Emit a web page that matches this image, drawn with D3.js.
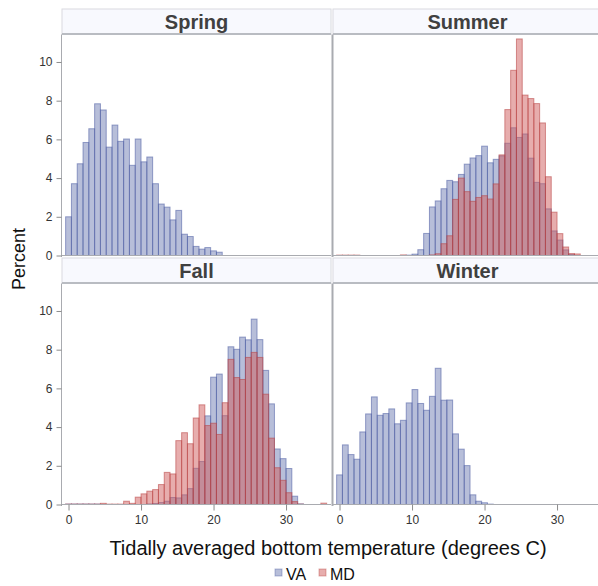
<!DOCTYPE html>
<html>
<head>
<meta charset="utf-8">
<script src="https://cdn.jsdelivr.net/npm/d3@7"></script>
<style>
  html, body { margin: 0; padding: 0; background: #ffffff; }
  svg { display: block; font-family: "Liberation Sans", Arial, sans-serif; }
</style>
</head>
<body>
<svg id="chart" width="598" height="586"></svg>
<script>
// Histogram bin midpoints (degrees C), bin width 0.8
const binMids = [0, 0.8, 1.6, 2.4, 3.2, 4, 4.8, 5.6, 6.4, 7.2, 8, 8.8, 9.6, 10.4, 11.2,
  12, 12.8, 13.6, 14.4, 15.2, 16, 16.8, 17.6, 18.4, 19.2, 20, 20.8, 21.6, 22.4, 23.2,
  24, 24.8, 25.6, 26.4, 27.2, 28, 28.8, 29.6, 30.4, 31.2, 32, 32.8, 33.6, 34.4, 35.2];
const binWidth = 0.8;

const seasons = ["Spring", "Summer", "Fall", "Winter"];
const states = ["VA", "MD"];

// Percent of observations per bin
const springVA = [2.0, 3.71, 4.74, 5.84, 6.55, 7.84, 7.52, 5.6, 6.74, 5.9, 6.02, 4.66, 6.02, 4.84, 5.09,
  3.71, 2.66, 2.5, 1.84, 2.33, 1.1, 0.98, 0.47, 0.33, 0.41, 0.24, 0.17, 0, 0, 0,
  0, 0, 0, 0, 0, 0, 0, 0, 0, 0, 0, 0, 0, 0, 0];
const springMD = [0, 0, 0, 0, 0, 0, 0, 0, 0, 0, 0, 0, 0, 0, 0,
  0, 0, 0, 0, 0, 0, 0, 0, 0, 0, 0, 0, 0, 0, 0,
  0, 0, 0, 0, 0, 0, 0, 0, 0, 0, 0, 0, 0, 0, 0];
const summerVA = [0, 0, 0, 0, 0, 0, 0, 0, 0, 0, 0, 0, 0.02, 0.07, 0.3,
  1.14, 2.51, 2.82, 3.45, 3.88, 3.81, 4.19, 4.72, 5.04, 5.16, 5.65, 4.79, 4.97, 5.15, 5.8,
  6.6, 6.1, 6.28, 5.03, 3.78, 3.71, 2.41, 1.27, 0.8, 0.29, 0.05, 0, 0, 0, 0];
const summerMD = [0.02, 0.02, 0.02, 0.02, 0, 0, 0, 0, 0, 0, 0, 0.03, 0, 0, 0,
  0, 0.03, 0.09, 0.61, 1.02, 2.9, 4.0, 3.3, 2.8, 3.0, 3.09, 2.92, 3.7, 5.2, 7.54,
  9.57, 11.19, 8.29, 8.11, 7.85, 6.85, 4.07, 2.24, 1.13, 0.44, 0.1, 0.08, 0, 0, 0];
const fallVA = [0.02, 0.02, 0.02, 0.02, 0.02, 0.02, 0, 0, 0, 0, 0, 0, 0, 0, 0.03,
  0.05, 0.1, 0.17, 0.36, 0.34, 0.5, 0.82, 1.87, 2.22, 4.58, 6.58, 6.74, 4.59, 8.15, 8.02,
  8.65, 8.51, 9.58, 8.52, 6.93, 5.2, 2.87, 2.37, 1.86, 0.43, 0.03, 0, 0, 0, 0];
const fallMD = [0.02, 0.02, 0.02, 0.02, 0.02, 0.02, 0.06, 0.02, 0.02, 0.02, 0.17, 0.06, 0.38, 0.55, 0.69,
  0.77, 1.03, 1.66, 1.58, 3.3, 3.71, 3.14, 4.47, 5.15, 4.08, 4.2, 3.62, 5.26, 7.5, 6.56,
  6.46, 7.6, 7.86, 7.6, 5.7, 3.43, 1.9, 1.25, 0.61, 0.15, 0.02, 0, 0, 0, 0.07];
const winterVA = [1.53, 3.08, 2.58, 2.34, 3.75, 4.68, 5.56, 4.61, 4.7, 4.94, 4.17, 4.35, 5.25, 5.94, 5.22,
  4.87, 5.59, 7.04, 5.39, 5.4, 3.65, 2.86, 2.01, 0.5, 0.17, 0.09, 0.02, 0, 0, 0,
  0, 0, 0, 0, 0, 0, 0, 0, 0, 0, 0, 0, 0, 0, 0];
const winterMD = [0, 0, 0, 0, 0, 0, 0, 0, 0, 0, 0, 0, 0, 0, 0,
  0, 0, 0, 0, 0, 0, 0, 0, 0, 0, 0, 0, 0, 0, 0,
  0, 0, 0, 0, 0, 0, 0, 0, 0, 0, 0, 0, 0, 0, 0];

const yTicks = [0, 2, 4, 6, 8, 10];
const xTicks = [0, 10, 20, 30];

const seriesBySeason = {
  Spring: { VA: springVA, MD: springMD },
  Summer: { VA: summerVA, MD: summerMD },
  Fall:   { VA: fallVA,   MD: fallMD },
  Winter: { VA: winterVA, MD: winterMD }
};

// Layout
const colX = [62, 333];
const cellW = 269;
const rowTop = [9, 258];
const headerH = 25.5;
const plotH = 221;

const fillColor = { VA: "#6F7EB3", MD: "#D05B5B" };
const edgeColor = { VA: "#4a5ba3", MD: "#b8403f" };

const svg = d3.select("#chart");

const yScale = row => d3.scaleLinear()
  .domain([0, 11.42])
  .range([rowTop[row] + headerH + plotH, rowTop[row] + headerH]);
const xScale = col => d3.scaleLinear()
  .domain([-0.9, 36.2])
  .range([colX[col], colX[col] + cellW]);

seasons.forEach((season, i) => {
  const row = Math.floor(i / 2), col = i % 2;
  const x = xScale(col), y = yScale(row);
  const g = svg.append("g");

  // header strip
  g.append("rect")
    .attr("x", colX[col]).attr("y", rowTop[row])
    .attr("width", cellW).attr("height", headerH)
    .attr("fill", "#f8f9fe")
    .attr("stroke", "#d9dadf").attr("stroke-width", 1);
  g.append("line")
    .attr("x1", colX[col]).attr("x2", colX[col] + cellW)
    .attr("y1", rowTop[row] + headerH - 0.5).attr("y2", rowTop[row] + headerH - 0.5)
    .attr("stroke", "#b9bcc2").attr("stroke-width", 2);
  g.append("text")
    .attr("x", colX[col] + cellW / 2)
    .attr("y", rowTop[row] + 20)
    .attr("text-anchor", "middle")
    .attr("font-size", 20).attr("font-weight", "bold")
    .attr("fill", "#404040")
    .text(season);

  // bars: VA first, MD on top
  states.forEach(st => {
    const vals = seriesBySeason[season][st];
    g.append("g").selectAll("rect")
      .data(binMids.map((m, k) => ({ m, v: vals[k] })).filter(d => d.v > 0))
      .join("rect")
      .attr("x", d => x(d.m - binWidth / 2))
      .attr("width", d => x(d.m + binWidth / 2) - x(d.m - binWidth / 2))
      .attr("y", d => y(d.v))
      .attr("height", d => y(0) - y(d.v))
      .attr("fill", fillColor[st]).attr("fill-opacity", 0.5)
      .attr("stroke", edgeColor[st]).attr("stroke-opacity", 0.55)
      .attr("stroke-width", 1);
  });

  // baseline
  g.append("line")
    .attr("x1", colX[col]).attr("x2", colX[col] + cellW)
    .attr("y1", y(0)).attr("y2", y(0))
    .attr("stroke", "#a9abb0").attr("stroke-width", 1);

  // left edge of the cell
  g.append("line")
    .attr("x1", colX[col] - 0.5).attr("x2", colX[col] - 0.5)
    .attr("y1", rowTop[row] + headerH).attr("y2", y(0) + 1.5)
    .attr("stroke", "#a9abb0").attr("stroke-width", col === 1 ? 2 : 1);

  if (col === 0) {
    const ax = d3.axisLeft(y).tickValues(yTicks).tickSize(5).tickPadding(4);
    const ag = g.append("g").attr("transform", `translate(${colX[col] - 0.5},0)`).call(ax);
    ag.select(".domain").remove();
    ag.selectAll("line").attr("stroke", "#8c8c8c");
    ag.selectAll("text").attr("font-size", 12).attr("fill", "#333")
      .attr("font-family", "Liberation Sans, Arial, sans-serif");
  }
  if (row === 1) {
    const ax = d3.axisBottom(x).tickValues(xTicks).tickSize(6).tickPadding(5);
    const ag = g.append("g").attr("transform", `translate(0,${y(0)})`).call(ax);
    ag.select(".domain").remove();
    ag.selectAll("line").attr("stroke", "#8c8c8c");
    ag.selectAll("text").attr("font-size", 12).attr("fill", "#333")
      .attr("font-family", "Liberation Sans, Arial, sans-serif");
  }
});

// axis titles
svg.append("text")
  .attr("transform", "translate(25,259) rotate(-90)")
  .attr("text-anchor", "middle")
  .attr("font-size", 18).attr("fill", "#111")
  .text("Percent");
svg.append("text")
  .attr("x", 328).attr("y", 555)
  .attr("text-anchor", "middle")
  .attr("font-size", 20).attr("fill", "#111")
  .text("Tidally averaged bottom temperature (degrees C)");

// legend
const legend = svg.append("g");
const legendItems = [{ s: "VA", x: 275 }, { s: "MD", x: 319 }];
legendItems.forEach(it => {
  legend.append("rect")
    .attr("x", it.x).attr("y", 569).attr("width", 7).attr("height", 7)
    .attr("fill", fillColor[it.s]).attr("fill-opacity", 0.5)
    .attr("stroke", edgeColor[it.s]).attr("stroke-opacity", 0.4);
  legend.append("text")
    .attr("x", it.x + 11).attr("y", 580)
    .attr("font-size", 16).attr("fill", "#111")
    .text(it.s);
});
</script>
</body>
</html>
